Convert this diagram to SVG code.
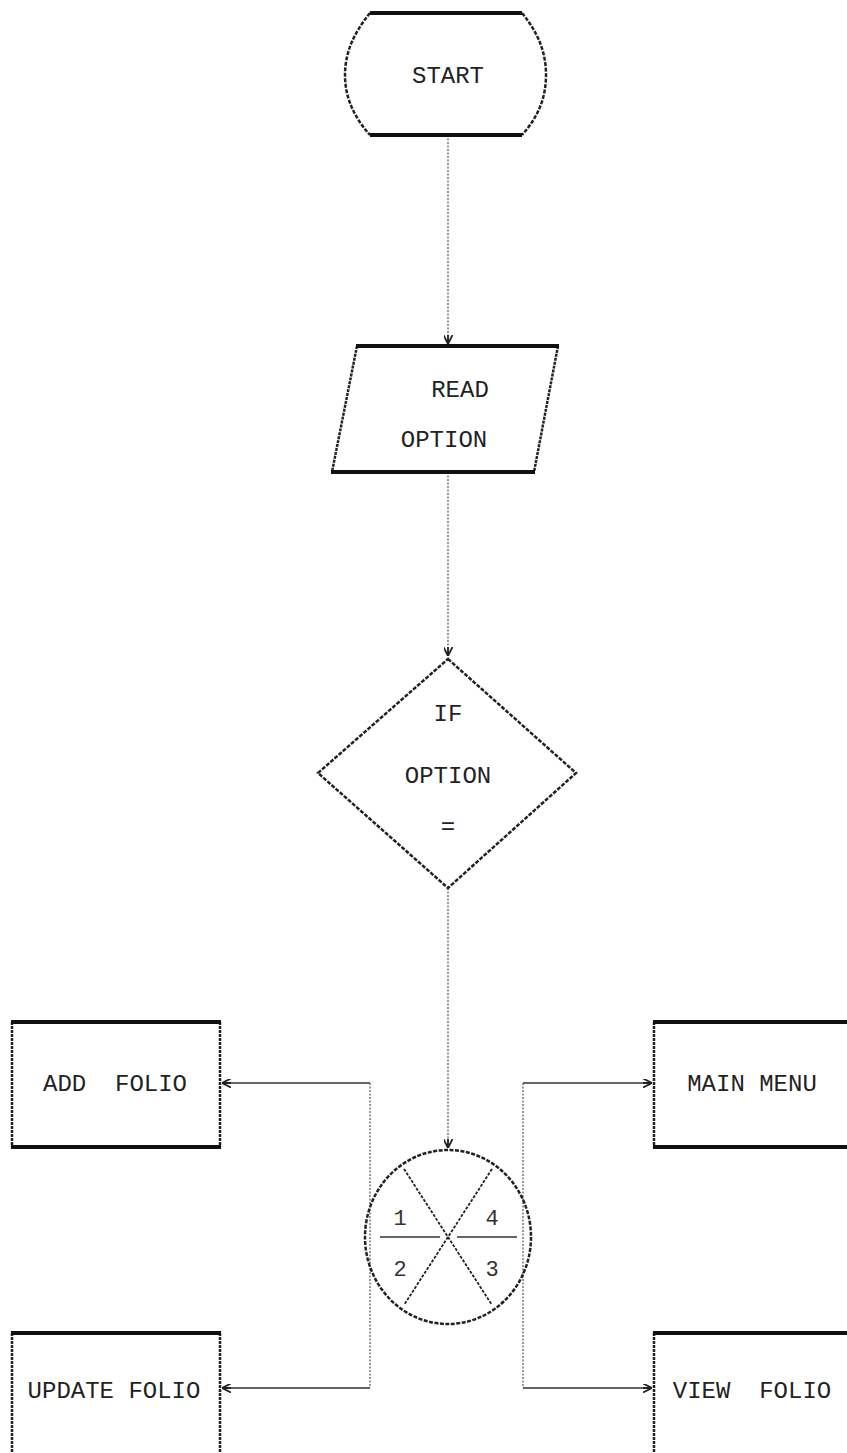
<svg xmlns="http://www.w3.org/2000/svg" width="847" height="1453" viewBox="0 0 847 1453">
<defs>
<style>
.bg{fill:#fff}
.edge{stroke:#111;stroke-width:4;fill:none}
.side{stroke:#222;stroke-width:2.5;fill:none;stroke-dasharray:3 1}
.shape{stroke:#222;stroke-width:2.5;fill:none;stroke-dasharray:4 1.5}
.conn{stroke:#555;stroke-width:1.2;fill:none;stroke-dasharray:2 1.5}
.xline{stroke:#222;stroke-width:1.8;fill:none;stroke-dasharray:3 1.5}
.hconn{stroke:#333;stroke-width:1.3;fill:none}
.t{font-family:"Liberation Mono","DejaVu Sans Mono",monospace;font-size:24px;fill:#222;text-anchor:middle;white-space:pre}
.ts{font-family:"Liberation Mono","DejaVu Sans Mono",monospace;font-size:22px;fill:#333;text-anchor:middle}
</style>
<marker id="arr" viewBox="0 0 10 10" refX="10" refY="5" markerWidth="9" markerHeight="9" markerUnits="userSpaceOnUse" orient="auto">
<path d="M0,0 L10,5 L0,10 M0,5 L10,5" stroke="#222" stroke-width="2" fill="none"/>
</marker>
</defs>
<rect class="bg" width="847" height="1453"/>

<g id="connectors">
<line class="conn" x1="448" y1="135" x2="448" y2="344" marker-end="url(#arr)"/>
<line class="conn" x1="448" y1="472" x2="448" y2="656" marker-end="url(#arr)"/>
<line class="conn" x1="448" y1="888" x2="448" y2="1148" marker-end="url(#arr)"/>
<line class="conn" x1="370" y1="1083" x2="370" y2="1388"/>
<line class="conn" x1="523" y1="1083" x2="523" y2="1388"/>
<line class="hconn" x1="370" y1="1083" x2="222" y2="1083" marker-end="url(#arr)"/>
<line class="hconn" x1="370" y1="1388" x2="222" y2="1388" marker-end="url(#arr)"/>
<line class="hconn" x1="523" y1="1083" x2="652" y2="1083" marker-end="url(#arr)"/>
<line class="hconn" x1="523" y1="1388" x2="652" y2="1388" marker-end="url(#arr)"/>
</g>

<g id="start">
<path class="shape" d="M370,13 C352,35 345,55 345,75 C345,95 352,115 370,135"/>
<path class="shape" d="M522,13 C540,35 546,55 546,75 C546,95 540,115 522,135"/>
<line class="edge" x1="370" y1="13" x2="522" y2="13"/>
<line class="edge" x1="370" y1="135" x2="522" y2="135"/>
<text class="t" x="448" y="83">START</text>
</g>

<g id="read-option">
<line class="side" x1="357" y1="346" x2="332" y2="472"/>
<line class="side" x1="558" y1="346" x2="534" y2="472"/>
<line class="edge" x1="356" y1="346" x2="559" y2="346"/>
<line class="edge" x1="331" y1="472" x2="535" y2="472"/>
<text class="t" x="460" y="397">READ</text>
<text class="t" x="444" y="447">OPTION</text>
</g>

<g id="decision">
<polygon class="shape" points="448,659 576,773 448,888 318,773"/>
<text class="t" x="448" y="721">IF</text>
<text class="t" x="448" y="783">OPTION</text>
<text class="t" x="448" y="834">=</text>
</g>

<g id="selector">
<ellipse class="shape" cx="448" cy="1237" rx="83" ry="87" stroke-width="2"/>
<line class="xline" x1="404" y1="1169" x2="492" y2="1305"/>
<line class="xline" x1="492" y1="1169" x2="404" y2="1305"/>
<line class="hconn" x1="380" y1="1237" x2="440" y2="1237" stroke-width="2"/>
<line class="hconn" x1="457" y1="1237" x2="517" y2="1237" stroke-width="1.5"/>
<text class="ts" x="400" y="1225">1</text>
<text class="ts" x="400" y="1276">2</text>
<text class="ts" x="492" y="1225">4</text>
<text class="ts" x="492" y="1276">3</text>
</g>

<g id="add-folio">
<line class="side" x1="12" y1="1022" x2="12" y2="1147"/>
<line class="side" x1="220" y1="1022" x2="220" y2="1147"/>
<line class="edge" x1="11" y1="1022" x2="221" y2="1022"/>
<line class="edge" x1="11" y1="1147" x2="221" y2="1147"/>
<text class="t" x="115" y="1091" xml:space="preserve">ADD  FOLIO</text>
</g>

<g id="main-menu">
<line class="side" x1="654" y1="1022" x2="654" y2="1147"/>
<line class="edge" x1="653" y1="1022" x2="847" y2="1022"/>
<line class="edge" x1="653" y1="1147" x2="847" y2="1147"/>
<text class="t" x="752" y="1091">MAIN MENU</text>
</g>

<g id="update-folio">
<line class="side" x1="12" y1="1333" x2="12" y2="1453"/>
<line class="side" x1="220" y1="1333" x2="220" y2="1453"/>
<line class="edge" x1="11" y1="1333" x2="221" y2="1333"/>
<text class="t" x="114" y="1398">UPDATE FOLIO</text>
</g>

<g id="view-folio">
<line class="side" x1="654" y1="1333" x2="654" y2="1453"/>
<line class="edge" x1="653" y1="1333" x2="847" y2="1333"/>
<text class="t" x="752" y="1398" xml:space="preserve">VIEW  FOLIO</text>
</g>
</svg>
